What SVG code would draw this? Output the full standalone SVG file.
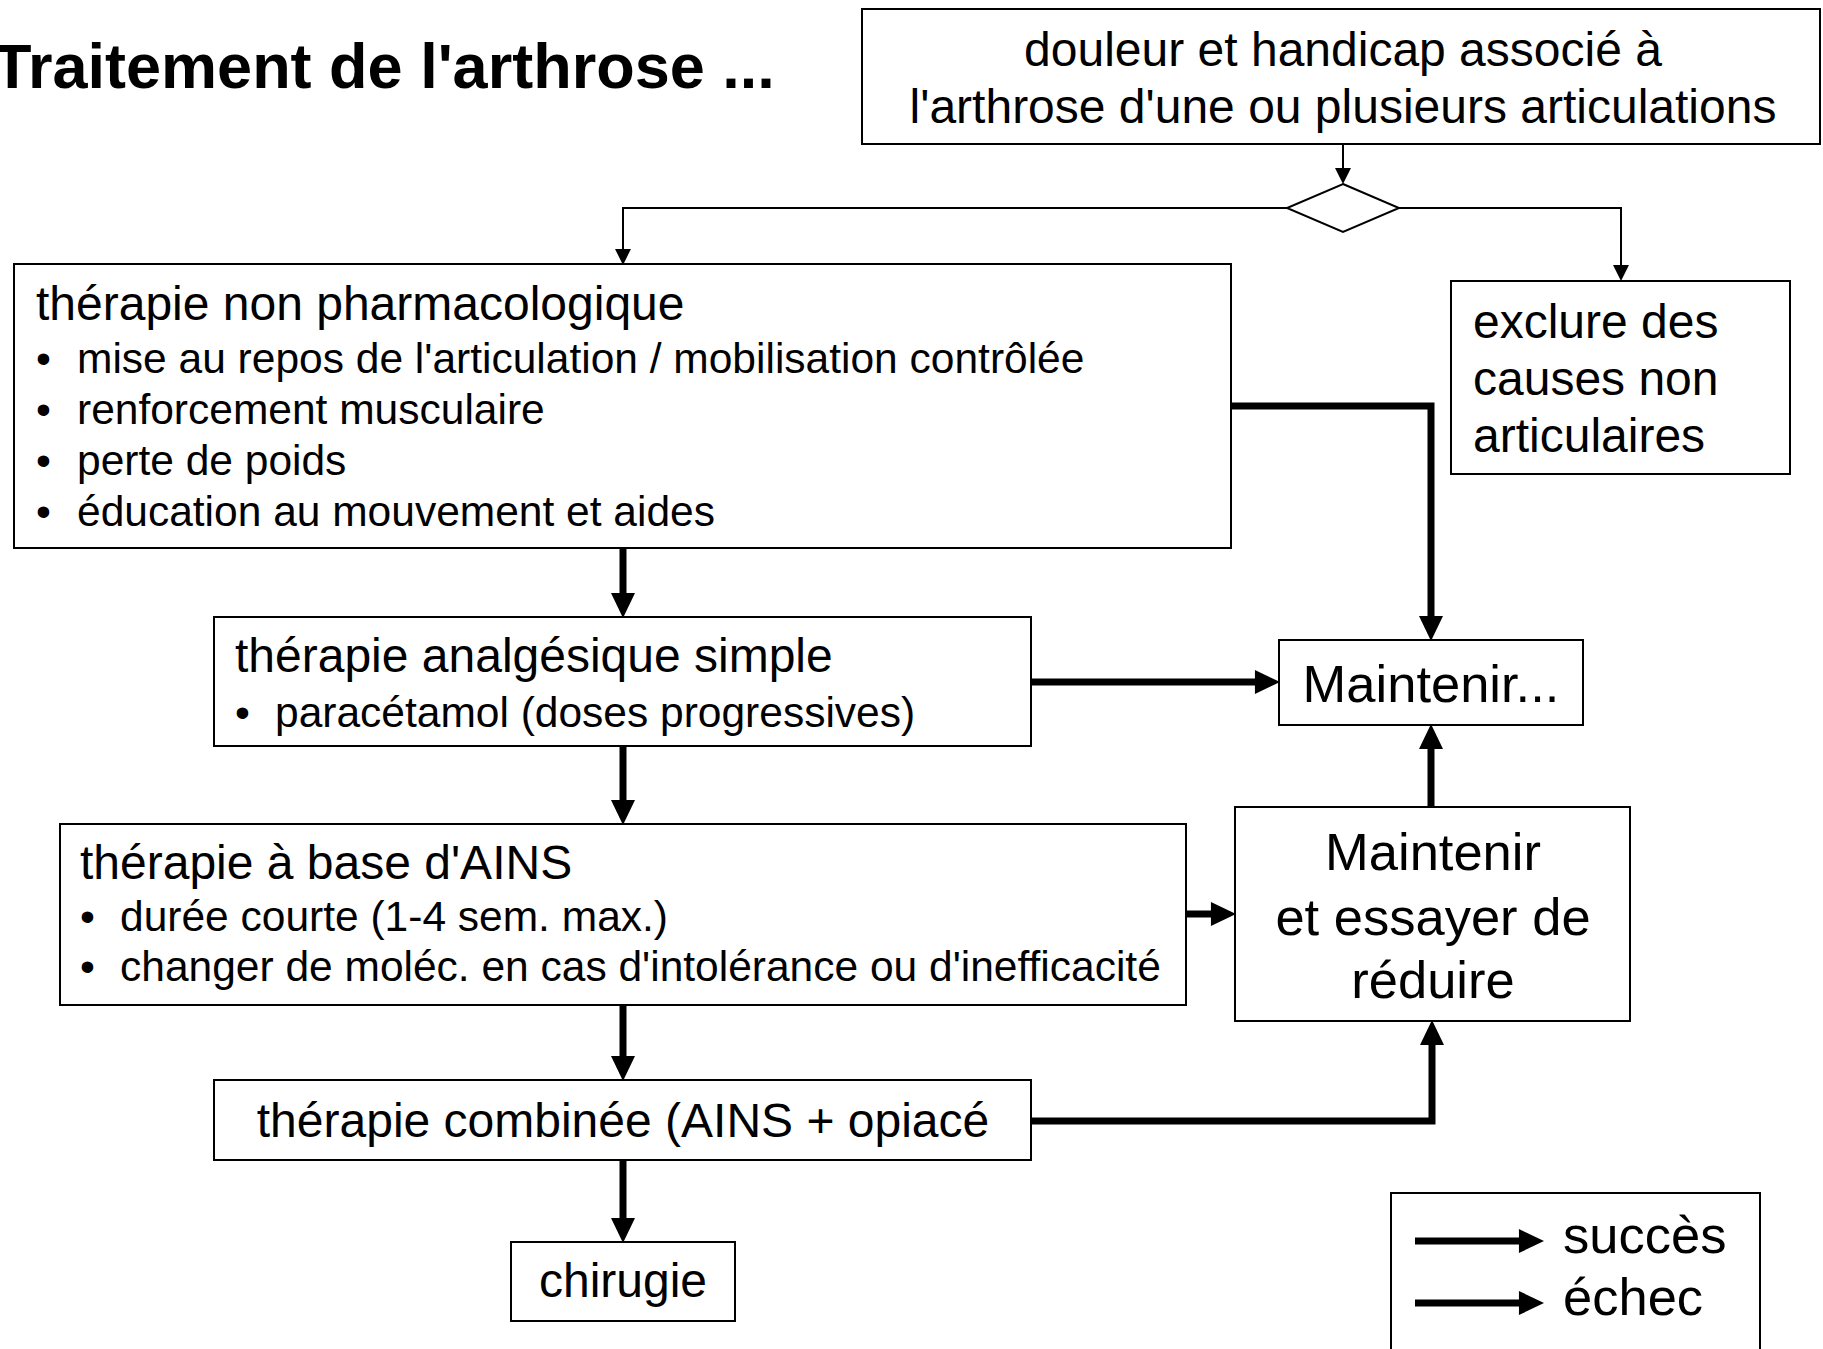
<svg xmlns="http://www.w3.org/2000/svg" width="1823" height="1349" viewBox="0 0 1823 1349">
<style>
.box{fill:#fff;stroke:#000;stroke-width:2}
text{font-family:"Liberation Sans",Arial,sans-serif;fill:#000}
.t48{font-size:48px}
.t42{font-size:42.5px}
.t52{font-size:52.5px}
.c{text-anchor:middle}
.thin{fill:none;stroke:#000;stroke-width:2}
.thick{fill:none;stroke:#000;stroke-width:7}
</style>
<defs>
<marker id="ah" markerUnits="userSpaceOnUse" markerWidth="26" markerHeight="24" viewBox="0 0 24 23" refX="1" refY="11.5" orient="auto">
<path d="M0,0 L24,11.5 L0,23 z" fill="#000"/>
</marker>
<marker id="ahs" markerUnits="userSpaceOnUse" markerWidth="16" markerHeight="16" viewBox="0 0 15 15" refX="1" refY="7.5" orient="auto">
<path d="M0,0 L15,7.5 L0,15 z" fill="#000"/>
</marker>
</defs>
<rect width="1823" height="1349" fill="#fff"/>
<text x="-7" y="88" style="font-size:63px;font-weight:bold">Traitement de l'arthrose ...</text>

<g id="connectors">
<path class="thin" d="M1343,144 V169" marker-end="url(#ahs)"/>
<path class="thin" d="M1287,208 H623 V250" marker-end="url(#ahs)"/>
<path class="thin" d="M1399,208 H1621 V266" marker-end="url(#ahs)"/>
<path class="thick" d="M1231,406 H1431 V617" marker-end="url(#ah)"/>
<path class="thick" d="M623,548 V594" marker-end="url(#ah)"/>
<path class="thick" d="M1031,682 H1256" marker-end="url(#ah)"/>
<path class="thick" d="M623,746 V801" marker-end="url(#ah)"/>
<path class="thick" d="M1187,914 H1212" marker-end="url(#ah)"/>
<path class="thick" d="M1431,807 V748" marker-end="url(#ah)"/>
<path class="thick" d="M623,1005 V1057" marker-end="url(#ah)"/>
<path class="thick" d="M623,1160 V1219" marker-end="url(#ah)"/>
<path class="thick" d="M1031,1121 H1432 V1044" marker-end="url(#ah)"/>
</g>

<g id="n_top">
<rect class="box" x="862" y="9" width="958" height="135"/>
<text class="t48 c" x="1343" y="66">douleur et handicap associé à</text>
<text class="t48 c" x="1343" y="123">l'arthrose d'une ou plusieurs articulations</text>
</g>

<g id="n_decision">
<polygon class="box" points="1343,184 1399,208 1343,232 1287,208"/>
</g>

<g id="n_nonpharma">
<rect class="box" x="14" y="264" width="1217" height="284"/>
<text class="t48" x="36" y="320">thérapie non pharmacologique</text>
<text class="t42" x="36" y="373">•</text><text class="t42" x="77" y="373">mise au repos de l'articulation / mobilisation contrôlée</text>
<text class="t42" x="36" y="424">•</text><text class="t42" x="77" y="424">renforcement musculaire</text>
<text class="t42" x="36" y="475">•</text><text class="t42" x="77" y="475">perte de poids</text>
<text class="t42" x="36" y="526">•</text><text class="t42" x="77" y="526">éducation au mouvement et aides</text>
</g>

<g id="n_exclure">
<rect class="box" x="1451" y="281" width="339" height="193"/>
<text class="t48" x="1473" y="338">exclure des</text>
<text class="t48" x="1473" y="395">causes non</text>
<text class="t48" x="1473" y="452">articulaires</text>
</g>

<g id="n_analgesique">
<rect class="box" x="214" y="617" width="817" height="129"/>
<text class="t48" x="235" y="672">thérapie analgésique simple</text>
<text class="t42" x="235" y="727">•</text><text class="t42" x="275" y="727">paracétamol (doses progressives)</text>
</g>

<g id="n_maintenir">
<rect class="box" x="1279" y="640" width="304" height="85"/>
<text class="t52 c" x="1431" y="702">Maintenir...</text>
</g>

<g id="n_ains">
<rect class="box" x="60" y="824" width="1126" height="181"/>
<text class="t48" x="80" y="879">thérapie à base d'AINS</text>
<text class="t42" x="80" y="931">•</text><text class="t42" x="120" y="931">durée courte (1-4 sem. max.)</text>
<text class="t42" x="80" y="981">•</text><text class="t42" x="120" y="981">changer de moléc. en cas d'intolérance ou d'inefficacité</text>
</g>

<g id="n_maintenir_reduire">
<rect class="box" x="1235" y="807" width="395" height="214"/>
<text class="t52 c" x="1433" y="870">Maintenir</text>
<text class="t52 c" x="1433" y="935">et essayer de</text>
<text class="t52 c" x="1433" y="998">réduire</text>
</g>

<g id="n_combinee">
<rect class="box" x="214" y="1080" width="817" height="80"/>
<text class="t48 c" x="623" y="1137">thérapie combinée (AINS + opiacé</text>
</g>

<g id="n_chirurgie">
<rect class="box" x="511" y="1242" width="224" height="79"/>
<text class="t48 c" x="623" y="1297">chirugie</text>
</g>

<g id="legend">
<rect class="box" x="1391" y="1193" width="369" height="200"/>
<path class="thick" d="M1415,1241 H1520" marker-end="url(#ah)"/>
<path class="thick" d="M1415,1303 H1520" marker-end="url(#ah)"/>
<text class="t52" x="1563" y="1253">succès</text>
<text class="t52" x="1563" y="1315">échec</text>
</g>
</svg>
